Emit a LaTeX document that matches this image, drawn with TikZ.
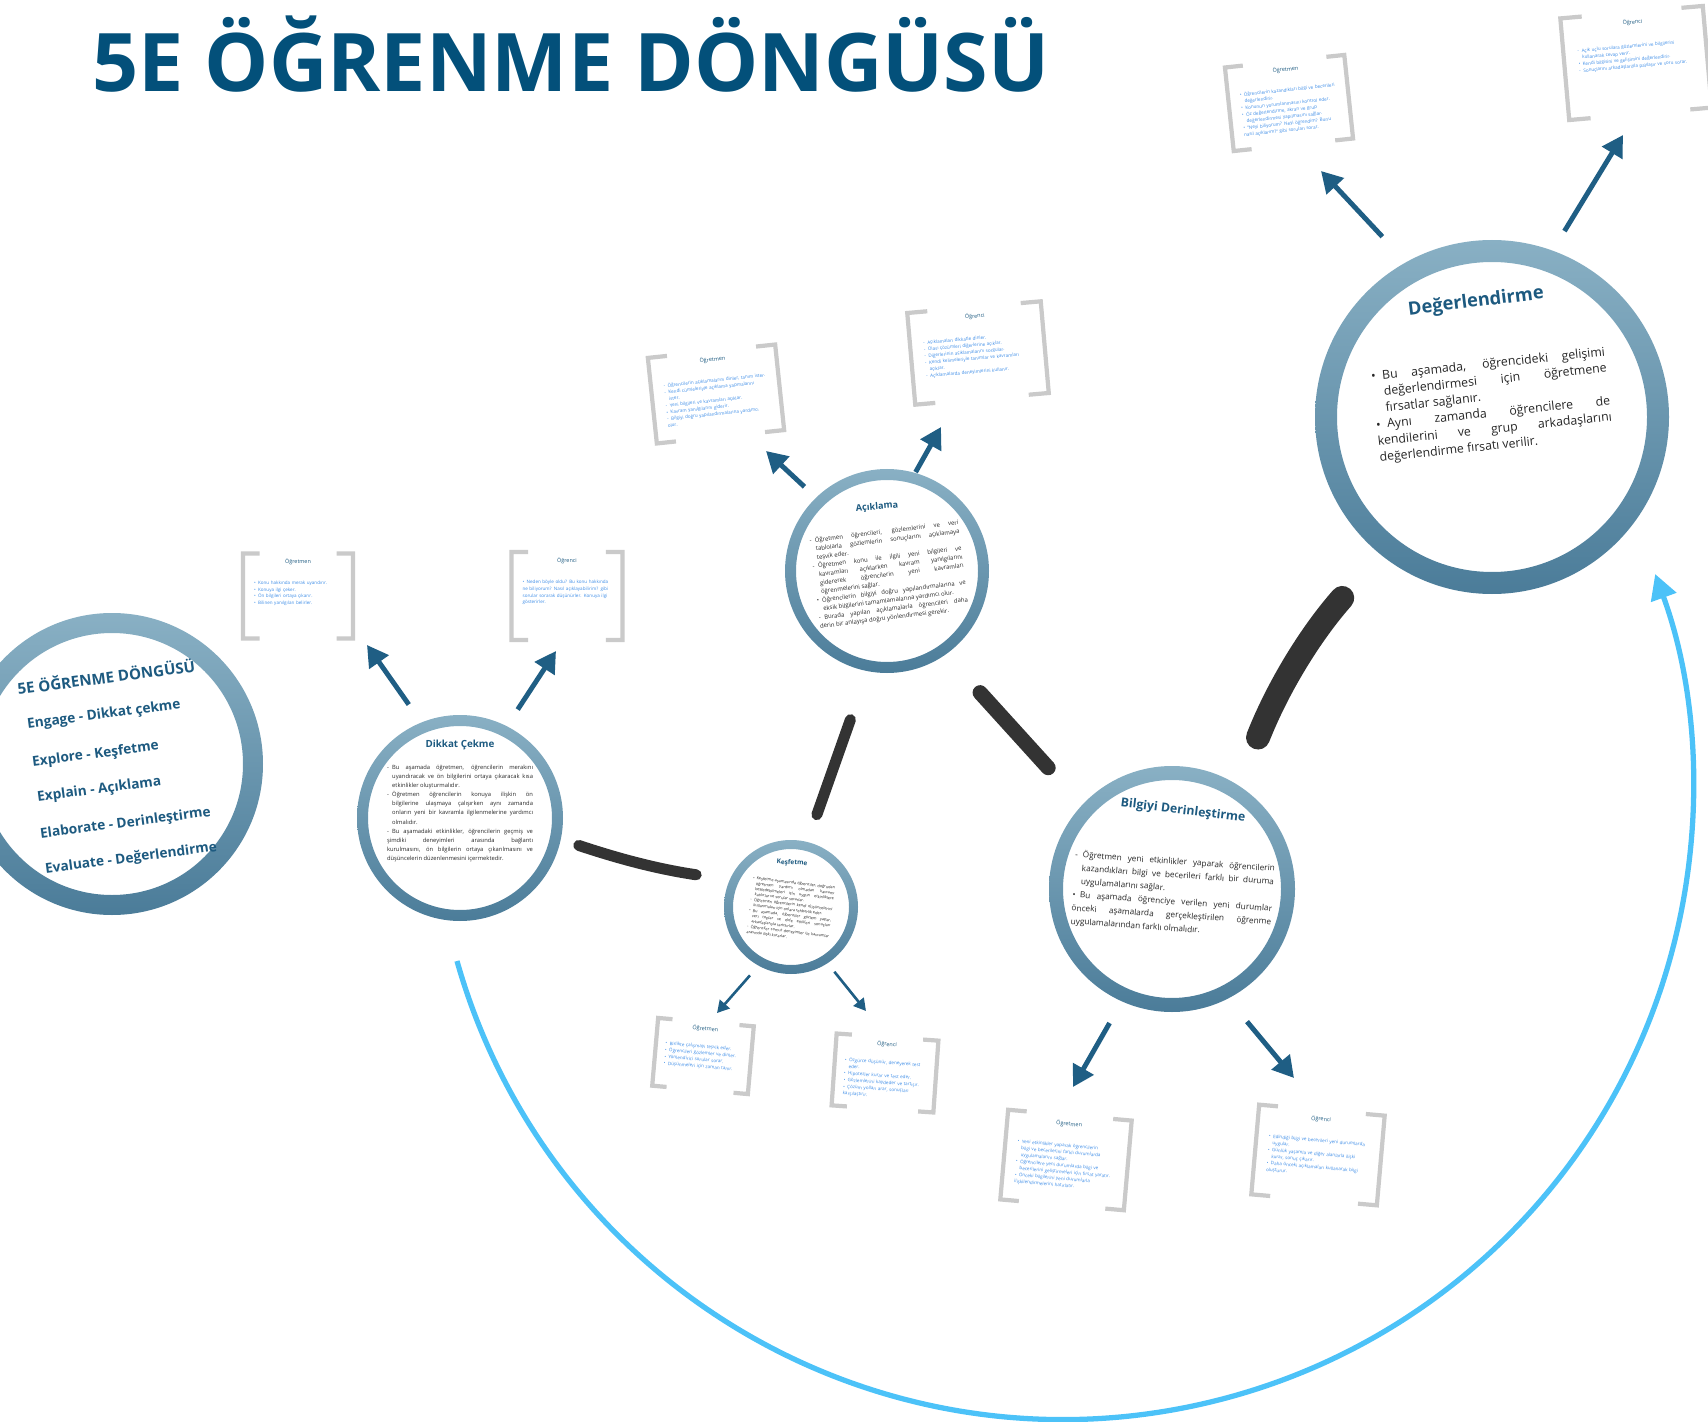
\documentclass[tikz,border=0pt]{standalone}
\usepackage{fontspec}
\setmainfont{Open Sans}
\usepackage{xcolor}
\usepackage{tikz}
\usetikzlibrary{arrows.meta,calc,positioning}

\definecolor{titleblue}{HTML}{03507A}
\definecolor{ringtop}{HTML}{89B0C4}
\definecolor{ringbot}{HTML}{4B7C99}
\definecolor{headblue}{HTML}{1D5A80}
\definecolor{arrowblue}{HTML}{1F5E84}
\definecolor{cycleblue}{HTML}{4CC2F8}
\definecolor{linkgray}{HTML}{333333}
\definecolor{bracketgray}{HTML}{CACACA}
\definecolor{noteblue}{HTML}{3B8BE6}

\hyphenpenalty=10000
\exhyphenpenalty=10000
\tolerance=9999
\emergencystretch=1em

\newcommand{\itm}[2][•]{\par\noindent\hangindent=0.9em\hangafter=1\makebox[0.9em][l]{#1}#2}

% ring: name, x, y, outer radius, thickness
\newcommand{\ringnode}[5]{%
\pgfmathsetmacro{\ringd}{#4*0.04}%
\pgfmathsetmacro{\ringin}{#4-#5}%
\node[circle, minimum size=\ringd cm, inner sep=0pt, outer sep=0pt] (#1) at (#2,#3) {};
\shade[top color=ringtop, bottom color=ringbot, even odd rule] (#2,#3) circle[radius=#4] (#2,#3) circle[radius=\ringin];
}

% note box: name, x, y, angle, width, height, title, body
\newcommand{\notebox}[8]{%
\pgfmathsetmacro{\nbw}{#5*0.02}%
\pgfmathsetmacro{\nbh}{#6*0.02}%
\pgfmathsetmacro{\nbt}{#5*0.02*0.8}%
\node[rotate=#4, minimum width=\nbw cm, minimum height=\nbh cm, inner sep=0pt, outer sep=0pt] (#1) at (#2,#3) {};
\draw[bracketline] ($(#1.north west)!.15!(#1.north east)$) -- (#1.north west) -- (#1.south west) -- ($(#1.south west)!.15!(#1.south east)$);
\draw[bracketline] ($(#1.north east)!.15!(#1.north west)$) -- (#1.north east) -- (#1.south east) -- ($(#1.south east)!.15!(#1.south west)$);
\node[notetitle, rotate=#4] (#1-title) at ($(#1.north)!.1!(#1.south)$) {#7};
\node[notebody, rotate=#4, anchor=north, text width=\nbt cm] (#1-body) at ($(#1.north)!.28!(#1.south)$) {#8};
}

\tikzset{
  ringbody/.style={text=black!85, align=justify, inner sep=0pt},
  ringhead/.style={text=headblue, inner sep=0pt},
  stage/.style={text=headblue, font=\fontsize{7.8}{9}\selectfont\bfseries, anchor=west, rotate=7.5, inner sep=0pt},
  notetitle/.style={font=\fontsize{3.1}{3.6}\selectfont, text=headblue, inner sep=0pt},
  notebody/.style={font=\fontsize{2.6}{3.8}\selectfont, text=noteblue, align=left, inner sep=0pt},
  bracketline/.style={bracketgray, line width=2.4pt},
  link/.style={linkgray, line cap=round},
  arr/.style={arrowblue, line width=2.8pt, -{Triangle[length=0.42cm,width=0.46cm]}},
  smallarr/.style={arrowblue, line width=1.5pt, -{Triangle[length=0.24cm,width=0.26cm]}},
  cyclearr/.style={cycleblue, line width=3pt, -{Triangle[length=0.5cm,width=0.52cm]}}
}

\begin{document}
\begin{tikzpicture}[x=0.02cm, y=-0.02cm]

\useasboundingbox (0,0) rectangle (1708,1422);
\clip (0,0) rectangle (1708,1422);

\node[anchor=base west, inner sep=0pt, text=titleblue, font=\fontsize{46}{50}\selectfont\bfseries] (title) at (92,92) {5E ÖĞRENME DÖNGÜSÜ};

% circles
\ringnode{main}{112}{764}{151}{20}
\ringnode{dik}{460}{818}{103}{11}
\ringnode{acik}{887}{571}{102}{11}
\ringnode{kes}{791}{907}{67}{9}
\ringnode{bilgi}{1172}{889}{123}{14}
\ringnode{deg}{1492}{417}{177}{22}

% left circle
\node[stage, font=\fontsize{8.6}{10}\selectfont\bfseries] (st0) at (17,688) {5E ÖĞRENME DÖNGÜSÜ};
\node[stage] (st1) at (27,725) {Engage - Dikkat çekme};
\node[stage] (st2) at (32,763) {Explore - Keşfetme};
\node[stage] (st3) at (37,798) {Explain - Açıklama};
\node[stage] (st4) at (40,835) {Elaborate - Derinleştirme};
\node[stage] (st5) at (45,870) {Evaluate - Değerlendirme};

% Dikkat Cekme
\node[ringhead, font=\fontsize{5.6}{6.5}\selectfont\bfseries] (dikhead) at (460,745) {Dikkat Çekme};
\node[ringbody, text width=2.92cm, font=\fontsize{3.3}{5.2}\selectfont] (dikbody) at (460,811) {%
\itm[-]{Bu aşamada öğretmen, öğrencilerin merakını\linebreak uyandıracak ve ön bilgilerini ortaya çıkaracak kısa\linebreak etkinlikler oluşturmalıdır.}
\itm[-]{Öğretmen öğrencilerin konuya ilişkin ön\linebreak bilgilerine ulaşmaya çalışırken aynı zamanda\linebreak onların yeni bir kavramla ilgilenmelerine yardımcı\linebreak olmalıdır.}
\itm[-]{Bu aşamadaki etkinlikler, öğrencilerin geçmiş ve\linebreak şimdiki deneyimleri arasında bağlantı\linebreak kurulmasını, ön bilgilerin ortaya çıkarılmasını ve\linebreak düşüncelerin düzenlenmesini içermektedir.}};

% Aciklama
\node[ringhead, rotate=5, font=\fontsize{5.2}{6}\selectfont\bfseries] (acikhead) at (877,507) {Açıklama};
\node[ringbody, rotate=7, text width=3.0cm, font=\fontsize{3.4}{4.9}\selectfont] (acikbody) at (889,573) {%
\itm[-]{Öğretmen öğrencileri, gözlemlerini ve veri\linebreak tablolarla gözlemlerin sonuçlarını açıklamaya\linebreak teşvik eder.}
\itm[-]{Öğretmen konu ile ilgili yeni bilgileri ve\linebreak kavramları açıklarken kavram yanılgılarını\linebreak gidererek öğrencilerin yeni kavramları\linebreak öğrenmelerini sağlar.}
\itm{Öğrencilerin bilgiyi doğru yapılandırmalarına ve\linebreak eksik bilgilerini tamamlamalarına yardımcı olur.}
\itm[-]{Burada yapılan açıklamalarla öğrencileri daha\linebreak derin bir anlayışa doğru yönlendirmesi gerekir.}};

% Kesfetme
\node[ringhead, rotate=-3, font=\fontsize{3.7}{4.2}\selectfont\bfseries] (keshead) at (792,863) {Keşfetme};
\node[ringbody, rotate=-7, text width=1.65cm, font=\fontsize{2.2}{3.1}\selectfont] (kesbody) at (791,909) {%
\itm{Keşfetme aşamasında öğrenciler, doğrudan öğretmen yardımı olmadan kavramı keşfedebilmeleri için uygun etkinliklere katılırlar ve sorular sorarlar.}
\itm[-]{Öğretmen öğrencilerin kendi düşüncelerini kullanmaları için onlara rehberlik eder.}
\itm{Bu aşamada, öğrenciler gözlem yapar, veri toplar ve elde ettikleri sonuçları arkadaşlarıyla tartışırlar.}
\itm[-]{Öğrenciler somut deneyimler ile kavramlar arasında ilişki kurarlar.}};

% Bilgiyi Derinlestirme
\node[ringhead, rotate=-7, font=\fontsize{7}{8}\selectfont\bfseries] (bilgihead) at (1183,811) {Bilgiyi Derinleştirme};
\node[ringbody, rotate=-4, text width=4.0cm, font=\fontsize{4.7}{7.6}\selectfont] (bilgibody) at (1173,892) {%
\itm[-]{Öğretmen yeni etkinlikler yaparak öğrencilerin\linebreak kazandıkları bilgi ve becerileri farklı bir duruma\linebreak uygulamalarını sağlar.}
\itm{Bu aşamada öğrenciye verilen yeni durumlar\linebreak önceki aşamalarda gerçekleştirilen öğrenme\linebreak uygulamalarından farklı olmalıdır.}};

% Degerlendirme
\node[ringhead, rotate=7, font=\fontsize{10.4}{12}\selectfont\bfseries] (deghead) at (1476,302) {Değerlendirme};
\node[ringbody, rotate=6, text width=4.7cm, font=\fontsize{7}{9.3}\selectfont] (degbody) at (1492,402) {%
\itm{Bu aşamada, öğrencideki gelişimi\linebreak değerlendirmesi için öğretmene\linebreak fırsatlar sağlanır.}
\itm{Aynı zamanda öğrencilere de\linebreak kendilerini ve grup arkadaşlarını\linebreak değerlendirme fırsatı verilir.}};

% links
\draw[link, line width=0.22cm, shorten <=0.38cm, shorten >=0.68cm] (dik.-12.8) to[bend right=5] (kes.156.1);
\draw[link, line width=0.22cm, shorten <=1.03cm, shorten >=0.58cm] (acik.-101.3) -- (kes.76.6);
\draw[link, line width=0.3cm, shorten <=1.03cm, shorten >=1.01cm] (acik.-55.9) -- (bilgi.137.7);
\draw[link, line width=0.48cm, shorten <=1.04cm, shorten >=1.16cm] (bilgi.57) to[bend left=10] (deg.-129.2);

% arrows to the notes
\coordinate (tipa1) at (367,645);
\coordinate (tipa2) at (556,651);
\coordinate (tipb1) at (766,451);
\coordinate (tipb2) at (941,427);
\coordinate (tipc1) at (717,1013);
\coordinate (tipc2) at (866,1011);
\coordinate (tipd1) at (1073,1087);
\coordinate (tipd2) at (1294,1078);
\coordinate (tipe1) at (1321,171);
\coordinate (tipe2) at (1623,135);

\draw[arr, shorten <=0.44cm] (dik.112.7) -- (tipa1);
\draw[arr, shorten <=0.4cm] (dik.63.4) -- (tipa2);
\draw[arr, shorten <=0.32cm] (acik.134.7) -- (tipb1);
\draw[arr, shorten <=0.02cm] (acik.74.2) -- (tipb2);
\draw[smallarr, shorten <=0.26cm] (kes.-119.1) -- (tipc1);
\draw[smallarr, shorten <=0.22cm] (kes.-57.5) -- (tipc2);
\draw[arr, shorten <=0.5cm] (bilgi.-114.3) -- (tipd1);
\draw[arr, shorten <=0.6cm] (bilgi.-63.6) -- (tipd2);
\draw[arr, shorten <=0.7cm] (deg.119.1) -- (tipe1);
\draw[arr, shorten <=0.46cm] (deg.70.1) -- (tipe2);

% back to the start
\draw[cyclearr] ($(dik)+(-3,143)$) arc[start angle=164.2, end angle=-20, radius=630];

% notes
\notebox{dikT}{298}{596}{0}{110}{85}{Öğretmen}{\itm{Konu hakkında merak uyandırır.}\itm{Konuya ilgi çeker.}\itm{Ön bilgileri ortaya çıkarır.}\itm{Bilinen yanılgıları belirler.}}
\notebox{dikS}{567}{596}{0}{111}{88}{Öğrenci}{\itm{Neden böyle oldu? Bu konu hakkında ne biliyorum? Nasıl açıklayabilirim? gibi sorular sorarak düşünürler. Konuya ilgi gösterirler.}}
\notebox{acikT}{716}{394}{6}{128}{86}{Öğretmen}{\itm[-]{Öğrencilerin açıklamalarını dinler, tanım ister.}\itm[-]{Kendi cümleleriyle açıklama yapmalarını ister.}\itm[-]{Yeni bilgileri ve kavramları açıklar.}\itm{Kavram yanılgılarını giderir.}\itm[-]{Bilgiyi doğru yapılandırmalarına yardımcı olur.}}
\notebox{acikS}{978}{353}{5}{134}{92}{Öğrenci}{\itm[-]{Açıklamaları dikkatle dinler.}\itm[-]{Olası çözümleri diğerlerine açıklar.}\itm[-]{Diğerlerinin açıklamalarını sorgular.}\itm[-]{Kendi kelimeleriyle tanımlar ve kavramları açıklar.}\itm[-]{Açıklamalarda deneyimlerini kullanır.}}
\notebox{kesT}{703}{1056}{-5}{96}{68}{Öğretmen}{\itm{Birlikte çalışmayı teşvik eder.}\itm{Öğrencileri gözlemler ve dinler.}\itm{Yönlendirici sorular sorar.}\itm{Düşünmeleri için zaman tanır.}}
\notebox{kesS}{885}{1073}{-4}{102}{72}{Öğrenci}{\itm{Özgürce düşünür, deneyerek test eder.}\itm{Hipotezler kurar ve test eder.}\itm{Gözlemlerini kaydeder ve tartışır.}\itm{Çözüm yolları arar, sonuçları karşılaştırır.}}
\notebox{bilT}{1066}{1160}{-5}{124}{90}{Öğretmen}{\itm{Yeni etkinlikler yaparak öğrencilerin bilgi ve becerilerini farklı durumlarda uygulamalarını sağlar.}\itm{Öğrencilere yeni durumlarda bilgi ve becerilerini geliştirmeleri için fırsat yaratır.}\itm{Önceki bilgilerini yeni durumlarla ilişkilendirmelerini hatırlatır.}}
\notebox{bilS}{1318}{1155}{-5}{126}{90}{Öğrenci}{\itm{Edindiği bilgi ve becerileri yeni durumlarda uygular.}\itm{Günlük yaşamla ve diğer alanlarla ilişki kurar, sonuç çıkarır.}\itm{Daha önceki açıklamaları kullanarak bilgi oluşturur.}}
\notebox{degT}{1289}{103}{6}{120}{84}{Öğretmen}{\itm{Öğrencilerin kazandıkları bilgi ve becerileri değerlendirir.}\itm{Konunun yorumlanmasını kontrol eder.}\itm{Öz değerlendirme, akran ve grup değerlendirmesi yapılmasını sağlar.}\itm{"Neyi biliyorum? Neyi öğrendim? Bunu nasıl açıklarım?" gibi soruları sorar.}}
\notebox{degS}{1636}{63}{5}{143}{102}{Öğrenci}{\itm[-]{Açık uçlu sorulara gözlemlerini ve bilgilerini kullanarak cevap verir.}\itm{Kendi bilgisini ve gelişimini değerlendirir.}\itm[-]{Sonuçlarını arkadaşlarıyla paylaşır ve soru sorar.}}

\end{tikzpicture}
\end{document}
